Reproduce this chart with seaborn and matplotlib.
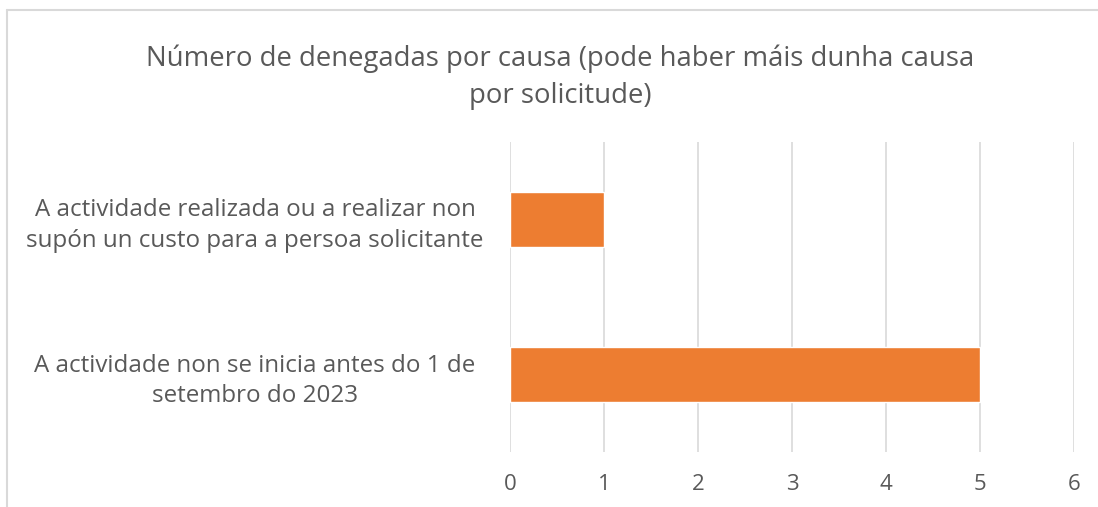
import matplotlib
matplotlib.use("Agg")
import matplotlib.pyplot as plt
import seaborn as sns
import pandas as pd
from matplotlib.lines import Line2D

categories = [
    "A actividade realizada ou a realizar non\nsupón un custo para a persoa solicitante",
    "A actividade non se inicia antes do 1 de\nsetembro do 2023",
]
values = [1, 5]
xticks = [0, 1, 2, 3, 4, 5, 6]
title = "Número de denegadas por causa (pode haber máis dunha causa\npor solicitude)"

sns.set_theme(style="white")
plt.rcParams["font.family"] = ["Open Sans", "DejaVu Sans"]

W, H = 1098, 507
fig = plt.figure(figsize=(W / 100, H / 100), dpi=100)
ax = fig.add_axes([510 / W, (H - 452) / H, (1074 - 510) / W, (452 - 142) / H])

df = pd.DataFrame({"cat": categories, "val": values})
sns.barplot(data=df, x="val", y="cat", orient="h", color="#ED7D31",
            saturation=1, width=0.355, ax=ax, zorder=3)

text_color = "#595959"
ax.set_xlim(0, 6)
ax.set_xticks(xticks)
ax.set_xticklabels([str(t) for t in xticks])
ax.grid(axis="x", color="#D9D9D9", linewidth=1.2, zorder=0)
ax.grid(axis="y", visible=False)
for s in ax.spines.values():
    s.set_visible(False)
ax.set_xlabel("")
ax.set_ylabel("")
ax.tick_params(axis="x", length=0, pad=16.0, labelsize=16, labelcolor=text_color)
ax.tick_params(axis="y", length=0, pad=183.6, labelsize=17.4, labelcolor=text_color)
for lbl in ax.get_yticklabels():
    lbl.set_ha("center")
    lbl.set_multialignment("center")
    lbl.set_linespacing(1.35)

fig.text(560 / W, 1 - 77 / H, title, ha="center", va="center",
         fontsize=19.8, color=text_color, linespacing=1.45, multialignment="center")

# chart border (partially cropped)
fig.add_artist(Line2D([7 / W, 7 / W], [0, 1 - 10 / H], transform=fig.transFigure,
                      color="#D9D9D9", linewidth=1.5))
fig.add_artist(Line2D([7 / W, 1], [1 - 10 / H, 1 - 10 / H], transform=fig.transFigure,
                      color="#D9D9D9", linewidth=1.5))

fig.savefig("out.png", dpi=100)
